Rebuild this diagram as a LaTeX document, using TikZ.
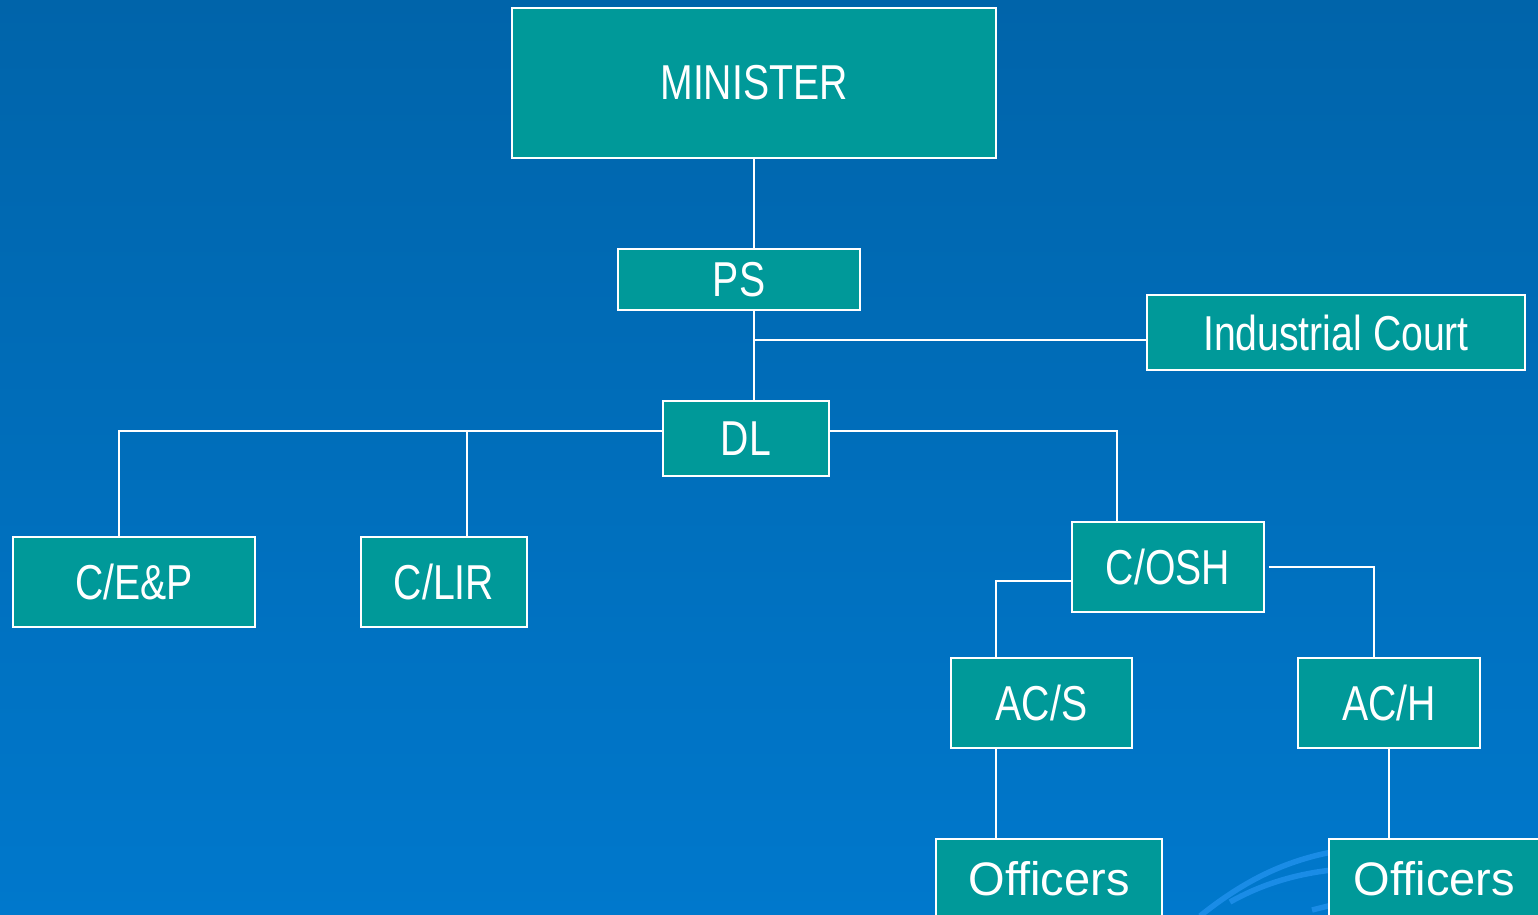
\documentclass[tikz,border=0pt]{standalone}
\usepackage{fontspec}
\setmainfont{Liberation Sans}
\newfontfamily\condfont[FakeStretch=0.8]{Liberation Sans}
\usetikzlibrary{positioning}
\definecolor{bgtop}{HTML}{0064AA}
\definecolor{bgbot}{HTML}{0078CC}
\definecolor{boxteal}{HTML}{009999}
\definecolor{swirl}{HTML}{1A8CE6}
\tikzset{
  unit/.style={rectangle,draw=white,line width=1.6pt,fill=boxteal,text=white,inner sep=0pt,font=\condfont\fontsize{49}{52}\selectfont},
  staff/.style={unit,font=\fontsize{47}{50}\selectfont},
  link/.style={draw=white,line width=1.6pt},
  arc/.style={draw=swirl,line width=5.5pt}
}
\begin{document}
\begin{tikzpicture}[x=1pt,y=-1pt]
\useasboundingbox (0,0) rectangle (1538,914);
\clip (0,0) rectangle (1538,914);
\shade[top color=bgtop,bottom color=bgbot] (0,0) rectangle (1538,914);
% faint swirl behind the bottom right box
\draw[arc] (1200,916) .. controls (1240,884) and (1280,862) .. (1332,852);
\draw[arc] (1230,902) .. controls (1262,884) and (1296,874) .. (1332,870);
\draw[arc] (1312,910) -- (1332,905);
% boxes
\node[unit,minimum width=484,minimum height=150] (min) at (754,83) {MINISTER};
\node[unit,minimum width=242,minimum height=61] (ps) at (739,279.5) {PS};
\node[unit,minimum width=378,minimum height=75] (court) at (1336,332.5) {Industrial Court};
\node[unit,minimum width=166,minimum height=75] (dl) at (746,438.5) {DL};
\node[unit,minimum width=242,minimum height=90] (cep) at (134,582) {C/E\&P};
\node[unit,minimum width=166,minimum height=90] (clir) at (444,582) {C/LIR};
\node[unit,minimum width=192,minimum height=90] (cosh) at (1168,567) {C/OSH};
\node[unit,minimum width=181,minimum height=90] (acs) at (1041.5,703) {AC/S};
\node[unit,minimum width=182,minimum height=90] (ach) at (1389,703) {AC/H};
\node[staff,minimum width=226,minimum height=80] (offl) at (1049,879) {Officers};
\node[staff,minimum width=211,minimum height=80] (offr) at (1434.5,879) {Officers};
% junctions
\coordinate (jcourt) at (754,340);
\coordinate (jcep) at (119,431);
\coordinate (jclir) at (467,431);
\coordinate (jcosh) at (1117,431);
\coordinate (jacs) at (996,581);
\coordinate (jach) at (1374,567);
% connectors
\draw[link] (min.south) -- (min.south |- ps.north);
\draw[link] (jcourt |- ps.south) -- (jcourt |- dl.north);
\draw[link] (jcourt) -- (jcourt -| court.west);
\draw[link] (jcep |- cep.north) -- (jcep) -- (jcep -| dl.west);
\draw[link] (jclir) -- (jclir |- clir.north);
\draw[link] (dl.east |- jcosh) -- (jcosh) -- (jcosh |- cosh.north);
\draw[link] (cosh.west |- jacs) -- (jacs) -- (jacs |- acs.north);
\draw[link] ([xshift=4pt]cosh.east |- jach) -- (jach) -- (jach |- ach.north);
\draw[link] (jacs |- acs.south) -- (jacs |- offl.north);
\draw[link] (ach.south) -- (ach.south |- offr.north);
\end{tikzpicture}
\end{document}
